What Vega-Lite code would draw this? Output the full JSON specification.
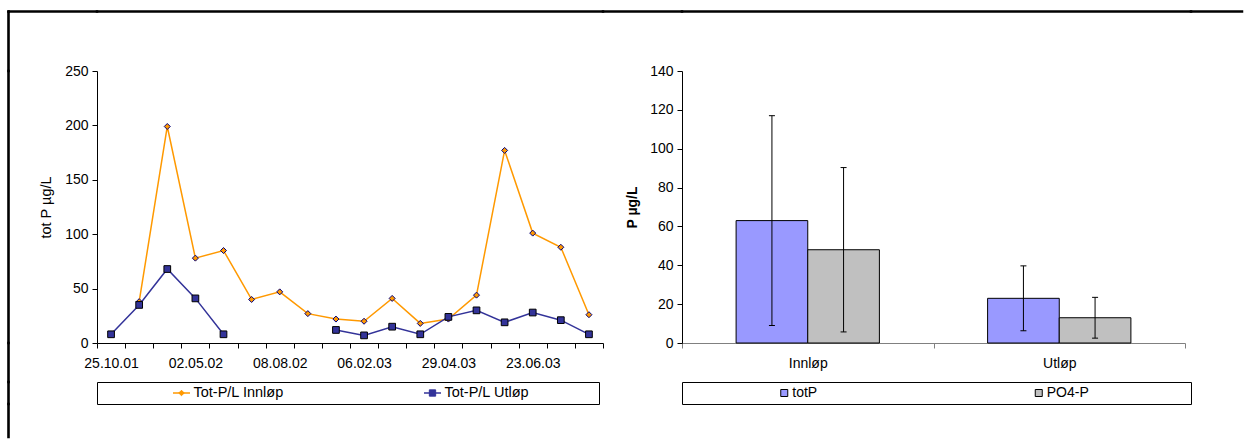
{
  "$schema": "https://vega.github.io/schema/vega-lite/v6.json",
  "background": "white",
  "padding": {"left": 7, "top": 10, "right": 0, "bottom": 0},
  "config": {
    "font": "Liberation Sans",
    "view": {"stroke": null},
    "axis": {
      "labelFont": "Liberation Sans", "titleFont": "Liberation Sans",
      "labelColor": "#000", "titleColor": "#000",
      "domainColor": "#000", "tickColor": "#000",
      "labelFontSize": 14, "titleFontSize": 14.5,
      "grid": false, "tickSize": 5, "domainWidth": 1, "tickWidth": 1
    },
    "text": {"font": "Liberation Sans", "fontSize": 14}
  },
  "datasets": {
    "series": [
      {"date": "25.10.01", "series": "Innløp", "value": null},
      {"date": "15.01.02", "series": "Innløp", "value": 38},
      {"date": "14.03.02", "series": "Innløp", "value": 199},
      {"date": "02.05.02", "series": "Innløp", "value": 78},
      {"date": "06.06.02", "series": "Innløp", "value": 85},
      {"date": "04.07.02", "series": "Innløp", "value": 40},
      {"date": "08.08.02", "series": "Innløp", "value": 47},
      {"date": "05.09.02", "series": "Innløp", "value": 27},
      {"date": "10.10.02", "series": "Innløp", "value": 22},
      {"date": "06.02.03", "series": "Innløp", "value": 20},
      {"date": "05.03.03", "series": "Innløp", "value": 41},
      {"date": "02.04.03", "series": "Innløp", "value": 18},
      {"date": "29.04.03", "series": "Innløp", "value": 22},
      {"date": "13.05.03", "series": "Innløp", "value": 44},
      {"date": "27.05.03", "series": "Innløp", "value": 177},
      {"date": "23.06.03", "series": "Innløp", "value": 101},
      {"date": "07.08.03", "series": "Innløp", "value": 88},
      {"date": "15.09.03", "series": "Innløp", "value": 26},
      {"date": "25.10.01", "series": "Utløp", "value": 8},
      {"date": "15.01.02", "series": "Utløp", "value": 35},
      {"date": "14.03.02", "series": "Utløp", "value": 68},
      {"date": "02.05.02", "series": "Utløp", "value": 41},
      {"date": "06.06.02", "series": "Utløp", "value": 8},
      {"date": "04.07.02", "series": "Utløp", "value": null},
      {"date": "08.08.02", "series": "Utløp", "value": null},
      {"date": "05.09.02", "series": "Utløp", "value": null},
      {"date": "10.10.02", "series": "Utløp", "value": 12},
      {"date": "06.02.03", "series": "Utløp", "value": 7},
      {"date": "05.03.03", "series": "Utløp", "value": 15},
      {"date": "02.04.03", "series": "Utløp", "value": 8},
      {"date": "29.04.03", "series": "Utløp", "value": 24},
      {"date": "13.05.03", "series": "Utløp", "value": 30},
      {"date": "27.05.03", "series": "Utløp", "value": 19},
      {"date": "23.06.03", "series": "Utløp", "value": 28},
      {"date": "07.08.03", "series": "Utløp", "value": 21},
      {"date": "15.09.03", "series": "Utløp", "value": 8}
    ],
    "bars": [
      {"loc": "Innløp", "series": "totP", "mean": 63, "low": 9, "high": 117},
      {"loc": "Innløp", "series": "PO4-P", "mean": 48, "low": 5.7, "high": 90.3},
      {"loc": "Utløp", "series": "totP", "mean": 23, "low": 6.3, "high": 39.7},
      {"loc": "Utløp", "series": "PO4-P", "mean": 13, "low": 2.5, "high": 23.5}
    ],
    "leg1": [
      {"series": "Innløp", "label": "Tot-P/L Innløp"},
      {"series": "Utløp", "label": "Tot-P/L Utløp"}
    ],
    "leg2": [
      {"series": "totP", "label": "totP"},
      {"series": "PO4-P", "label": "PO4-P"}
    ],
    "none": []
  },
  "resolve": {"scale": {"color": "independent", "fill": "independent", "stroke": "independent", "shape": "independent", "size": "independent"}},
  "columns": 6,
  "spacing": 0,
  "bounds": "flush",
  "center": true,
  "concat": [
    {"width": 0.1, "height": 0.1, "view": {"stroke": "#000", "strokeWidth": 2.5}, "data": {"name": "none"}, "mark": "point", "encoding": {}},
    {"width": 88, "height": 0.1, "view": {"stroke": "#000", "strokeWidth": 2.5}, "data": {"name": "none"}, "mark": "point", "encoding": {}},
    {"width": 506, "height": 0.1, "view": {"stroke": "#000", "strokeWidth": 2.5}, "data": {"name": "none"}, "mark": "point", "encoding": {}},
    {"width": 79, "height": 0.1, "view": {"stroke": "#000", "strokeWidth": 2.5}, "data": {"name": "none"}, "mark": "point", "encoding": {}},
    {"width": 509, "height": 0.1, "view": {"stroke": "#000", "strokeWidth": 2.5}, "data": {"name": "none"}, "mark": "point", "encoding": {}},
    {"width": 51, "height": 0.1, "view": {"stroke": "#000", "strokeWidth": 2.5}, "data": {"name": "none"}, "mark": "point", "encoding": {}},

    {"width": 0.1, "height": 59, "view": {"stroke": "#000", "strokeWidth": 2.5}, "data": {"name": "none"}, "mark": "point", "encoding": {}},
    {"width": 0.1, "height": 0.1, "data": {"name": "none"}, "mark": "point", "encoding": {}},
    {"width": 0.1, "height": 0.1, "data": {"name": "none"}, "mark": "point", "encoding": {}},
    {"width": 0.1, "height": 0.1, "data": {"name": "none"}, "mark": "point", "encoding": {}},
    {"width": 0.1, "height": 0.1, "data": {"name": "none"}, "mark": "point", "encoding": {}},
    {"width": 0.1, "height": 0.1, "data": {"name": "none"}, "mark": "point", "encoding": {}},

    {"width": 0.1, "height": 272, "view": {"stroke": "#000", "strokeWidth": 2.5}, "data": {"name": "none"}, "mark": "point", "encoding": {}},
    {"width": 0.1, "height": 0.1, "data": {"name": "none"}, "mark": "point", "encoding": {}},
    {
      "width": 506, "height": 272,
      "data": {"name": "series"},
      "encoding": {
        "x": {
          "field": "date", "type": "ordinal",
          "scale": {"type": "band", "domain": ["25.10.01","15.01.02","14.03.02","02.05.02","06.06.02","04.07.02","08.08.02","05.09.02","10.10.02","06.02.03","05.03.03","02.04.03","29.04.03","13.05.03","27.05.03","23.06.03","07.08.03","15.09.03"], "paddingInner": 0, "paddingOuter": 0},
          "axis": {
            "title": null, "labelAngle": 0, "tickBand": "extent", "labelOverlap": false,
            "labelPadding": 8,
            "labelExpr": "indexof(['25.10.01','02.05.02','08.08.02','06.02.03','29.04.03','23.06.03'], datum.value) >= 0 ? datum.label : ''"
          }
        },
        "y": {
          "field": "value", "type": "quantitative",
          "scale": {"domain": [0, 250]},
          "axis": {"values": [0, 50, 100, 150, 200, 250], "title": "tot P µg/L", "titleFontWeight": "normal", "titlePadding": 11, "labelPadding": 4}
        }
      },
      "layer": [
        {
          "mark": {"type": "line", "strokeWidth": 1.5},
          "encoding": {
            "color": {"field": "series", "type": "nominal", "scale": {"domain": ["Innløp", "Utløp"], "range": ["#FF9900", "#333399"]}, "legend": null}
          }
        },
        {
          "mark": {"type": "point", "filled": true, "opacity": 1, "strokeWidth": 1},
          "encoding": {
            "shape": {"field": "series", "type": "nominal", "scale": {"domain": ["Innløp", "Utløp"], "range": ["diamond", "square"]}, "legend": null},
            "fill": {"field": "series", "type": "nominal", "scale": {"domain": ["Innløp", "Utløp"], "range": ["#FF9900", "#333399"]}, "legend": null},
            "stroke": {"field": "series", "type": "nominal", "scale": {"domain": ["Innløp", "Utløp"], "range": ["#000080", "#000000"]}, "legend": null},
            "size": {"field": "series", "type": "ordinal", "scale": {"domain": ["Innløp", "Utløp"], "range": [36, 45]}, "legend": null}
          }
        }
      ]
    },
    {"width": 0.1, "height": 0.1, "data": {"name": "none"}, "mark": "point", "encoding": {}},
    {
      "width": 503, "height": 272,
      "data": {"name": "bars"},
      "encoding": {
        "x": {
          "field": "loc", "type": "nominal",
          "scale": {"type": "band", "domain": ["Innløp", "Utløp"], "paddingInner": 0, "paddingOuter": 0},
          "axis": {"title": null, "labelAngle": 0, "tickBand": "extent", "domainColor": "#808080", "tickColor": "#808080", "labelPadding": 8}
        },
        "xOffset": {"field": "series", "type": "nominal", "scale": {"domain": ["totP", "PO4-P"], "paddingInner": 0, "paddingOuter": 0.755}}
      },
      "layer": [
        {
          "mark": {"type": "bar", "stroke": "#000", "strokeWidth": 1},
          "encoding": {
            "y": {"field": "mean", "type": "quantitative", "title": "P µg/L", "scale": {"domain": [0, 140]},
                  "axis": {"values": [0, 20, 40, 60, 80, 100, 120, 140], "labelOverlap": false, "titleFontWeight": "bold", "titleFontSize": 14, "titlePadding": 10, "labelPadding": 4}},
            "fill": {"field": "series", "type": "nominal", "scale": {"domain": ["totP", "PO4-P"], "range": ["#9999FF", "#C0C0C0"]}, "legend": null}
          }
        },
        {
          "mark": {"type": "rule", "color": "#000", "strokeWidth": 1},
          "encoding": {
            "y": {"field": "low", "type": "quantitative", "title": "P µg/L",
                  "axis": {"values": [0, 20, 40, 60, 80, 100, 120, 140], "labelOverlap": false, "titleFontWeight": "bold", "titleFontSize": 14, "titlePadding": 10, "labelPadding": 4}},
            "y2": {"field": "high"}
          }
        },
        {
          "mark": {"type": "tick", "color": "#000", "thickness": 1, "size": 6, "orient": "horizontal", "opacity": 1},
          "encoding": {"y": {"field": "low", "type": "quantitative", "title": "P µg/L",
                  "axis": {"values": [0, 20, 40, 60, 80, 100, 120, 140], "labelOverlap": false, "titleFontWeight": "bold", "titleFontSize": 14, "titlePadding": 10, "labelPadding": 4}}}
        },
        {
          "mark": {"type": "tick", "color": "#000", "thickness": 1, "size": 6, "orient": "horizontal", "opacity": 1},
          "encoding": {"y": {"field": "high", "type": "quantitative", "title": "P µg/L",
                  "axis": {"values": [0, 20, 40, 60, 80, 100, 120, 140], "labelOverlap": false, "titleFontWeight": "bold", "titleFontSize": 14, "titlePadding": 10, "labelPadding": 4}}}
        }
      ]
    },
    {"width": 0.1, "height": 0.1, "data": {"name": "none"}, "mark": "point", "encoding": {}},

    {"width": 0.1, "height": 39, "view": {"stroke": "#000", "strokeWidth": 2.5}, "data": {"name": "none"}, "mark": "point", "encoding": {}},
    {"width": 0.1, "height": 0.1, "data": {"name": "none"}, "mark": "point", "encoding": {}},
    {"width": 0.1, "height": 0.1, "data": {"name": "none"}, "mark": "point", "encoding": {}},
    {"width": 0.1, "height": 0.1, "data": {"name": "none"}, "mark": "point", "encoding": {}},
    {"width": 0.1, "height": 0.1, "data": {"name": "none"}, "mark": "point", "encoding": {}},
    {"width": 0.1, "height": 0.1, "data": {"name": "none"}, "mark": "point", "encoding": {}},

    {"width": 0.1, "height": 22, "view": {"stroke": "#000", "strokeWidth": 2.5}, "data": {"name": "none"}, "mark": "point", "encoding": {}},
    {"width": 0.1, "height": 0.1, "data": {"name": "none"}, "mark": "point", "encoding": {}},
    {
      "width": 502, "height": 22,
      "view": {"stroke": "#000", "strokeWidth": 1},
      "data": {"name": "leg1"},
      "encoding": {
        "x": {"field": "label", "type": "nominal", "scale": {"type": "band", "domain": ["Tot-P/L Innløp", "Tot-P/L Utløp"], "paddingInner": 0, "paddingOuter": 0}, "axis": null}
      },
      "layer": [
        {
          "mark": {"type": "point", "shape": "stroke", "size": 289, "xOffset": -41, "strokeWidth": 1.5, "opacity": 1},
          "encoding": {
            "stroke": {"field": "series", "type": "nominal", "scale": {"domain": ["Innløp", "Utløp"], "range": ["#FF9900", "#333399"]}, "legend": null}
          }
        },
        {
          "mark": {"type": "point", "filled": true, "opacity": 1, "strokeWidth": 1, "xOffset": -41},
          "encoding": {
            "shape": {"field": "series", "type": "nominal", "scale": {"domain": ["Innløp", "Utløp"], "range": ["diamond", "square"]}, "legend": null},
            "fill": {"field": "series", "type": "nominal", "scale": {"domain": ["Innløp", "Utløp"], "range": ["#FF9900", "#333399"]}, "legend": null},
            "stroke": {"field": "series", "type": "nominal", "scale": {"domain": ["Innløp", "Utløp"], "range": ["#000080", "#000000"]}, "legend": null},
            "size": {"field": "series", "type": "ordinal", "scale": {"domain": ["Innløp", "Utløp"], "range": [30, 40]}, "legend": null}
          }
        },
        {
          "mark": {"type": "text", "align": "left", "baseline": "middle", "dx": -29, "fontSize": 14.5, "color": "#000"},
          "encoding": {"text": {"field": "label"}}
        }
      ]
    },
    {"width": 0.1, "height": 0.1, "data": {"name": "none"}, "mark": "point", "encoding": {}},
    {
      "width": 509, "height": 22,
      "view": {"stroke": "#000", "strokeWidth": 1},
      "data": {"name": "leg2"},
      "encoding": {
        "x": {"field": "label", "type": "nominal", "scale": {"type": "band", "domain": ["totP", "PO4-P"], "paddingInner": 0, "paddingOuter": 0}, "axis": null}
      },
      "layer": [
        {
          "mark": {"type": "point", "shape": "square", "filled": true, "size": 49, "xOffset": -25, "opacity": 1, "stroke": "#000", "strokeWidth": 1},
          "encoding": {
            "fill": {"field": "series", "type": "nominal", "scale": {"domain": ["totP", "PO4-P"], "range": ["#9999FF", "#C0C0C0"]}, "legend": null}
          }
        },
        {
          "mark": {"type": "text", "align": "left", "baseline": "middle", "dx": -17, "fontSize": 14, "color": "#000"},
          "encoding": {"text": {"field": "label"}}
        }
      ]
    },
    {"width": 0.1, "height": 0.1, "data": {"name": "none"}, "mark": "point", "encoding": {}},

    {"width": 0.1, "height": 33, "view": {"stroke": "#000", "strokeWidth": 2.5}, "data": {"name": "none"}, "mark": "point", "encoding": {}},
    {"width": 0.1, "height": 0.1, "data": {"name": "none"}, "mark": "point", "encoding": {}},
    {"width": 0.1, "height": 0.1, "data": {"name": "none"}, "mark": "point", "encoding": {}},
    {"width": 0.1, "height": 0.1, "data": {"name": "none"}, "mark": "point", "encoding": {}},
    {"width": 0.1, "height": 0.1, "data": {"name": "none"}, "mark": "point", "encoding": {}},
    {"width": 0.1, "height": 0.1, "data": {"name": "none"}, "mark": "point", "encoding": {}}
  ]
}
